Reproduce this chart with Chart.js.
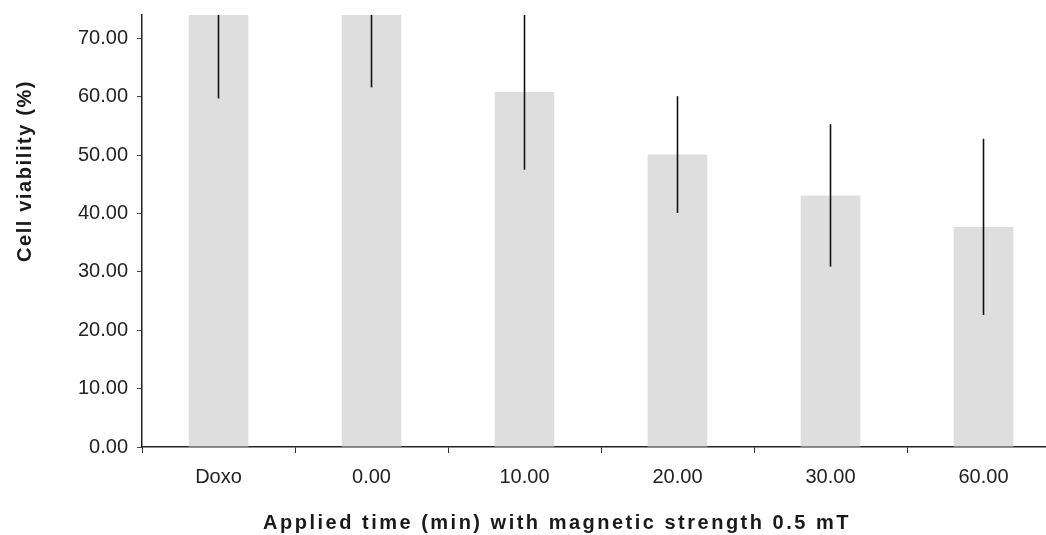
<!DOCTYPE html>
<html>
<head>
<meta charset="utf-8">
<script src="https://cdn.jsdelivr.net/npm/chart.js@4"></script>
<style>
	html, body { margin: 0; padding: 0; background: #fff; overflow: hidden; }
	#wrap { width: 1066px; height: 535px; }
</style>
</head>
<body>
<div id="wrap"><canvas id="chart"></canvas></div>
<script>
// values (the top of the first two bars is cut off)
const categories = ['Doxo', '0.00', '10.00', '20.00', '30.00', '60.00'];
const viability = [76.0, 76.0, 60.8, 50.1, 43.1, 37.7];
const sd = [16.3, 14.4, 13.3, 10.0, 12.2, 15.1];
const yTicks = [0, 10, 20, 30, 40, 50, 60, 70];
const xTitleText = 'Applied time (min) with magnetic strength 0.5 mT';
const yTitleText = 'Cell viability (%)';

const fontFamily = '"Liberation Sans", Arial, sans-serif';

// vertical error lines, no caps
const errorBars = {
	id: 'errorBars',
	afterDatasetsDraw(chart) {
		let ctx = chart.ctx;
		let y = chart.scales.y;
		let meta = chart.getDatasetMeta(0);
		let area = chart.chartArea;
		ctx.save();
		ctx.beginPath();
		ctx.rect(area.left, area.top, area.right - area.left, area.bottom - area.top);
		ctx.clip();
		ctx.strokeStyle = '#111';
		ctx.lineWidth = 1.6;
		meta.data.forEach((bar, i) => {
			ctx.beginPath();
			ctx.moveTo(bar.x, y.getPixelForValue(viability[i] - sd[i]));
			ctx.lineTo(bar.x, y.getPixelForValue(viability[i] + sd[i]));
			ctx.stroke();
		});
		ctx.restore();
	}
};

// axis titles are spaced out and sit off-centre in the original, so draw them by hand
const axisTitles = {
	id: 'axisTitles',
	afterDraw(chart) {
		let ctx = chart.ctx;
		let area = chart.chartArea;
		ctx.save();
		ctx.fillStyle = '#1a1a1a';
		ctx.textBaseline = 'middle';
		ctx.letterSpacing = '2.5px';
		ctx.font = 'bold 20px ' + fontFamily;
		ctx.textAlign = 'center';
		ctx.fillText(xTitleText, area.left + 415, 523);

		ctx.letterSpacing = '1.6px';
		ctx.font = 'bold 20px ' + fontFamily;
		ctx.translate(25, 171);
		ctx.rotate(-Math.PI / 2);
		ctx.fillText(yTitleText, 0, 0);
		ctx.restore();
	}
};

new Chart(document.getElementById('chart'), {
	type: 'bar',
	data: {
		labels: categories,
		datasets: [{
			data: viability,
			backgroundColor: '#dedede',
			borderWidth: 0,
			barPercentage: 0.39,
			categoryPercentage: 1.0
		}]
	},
	options: {
		responsive: true,
		maintainAspectRatio: false,
		animation: false,
		layout: { padding: { left: 0, top: 15, right: 6, bottom: 0 } },
		plugins: {
			legend: { display: false },
			tooltip: { enabled: false }
		},
		scales: {
			x: {
				grid: {
					offset: true,
					drawOnChartArea: false,
					drawTicks: true,
					tickLength: 6,
					color: '#333'
				},
				border: { color: '#222', width: 1.5 },
				ticks: {
					color: '#222',
					padding: 12,
					font: { family: fontFamily, size: 20 }
				},
				afterFit(scale) { scale.height = 88; }
			},
			y: {
				min: 0,
				max: 74,
				grid: {
					drawOnChartArea: false,
					drawTicks: true,
					tickLength: 5,
					color: '#444'
				},
				border: { color: '#222', width: 1.5 },
				afterBuildTicks(scale) {
					scale.ticks = yTicks.map(v => ({ value: v }));
				},
				ticks: {
					color: '#222',
					padding: 9,
					font: { family: fontFamily, size: 20 },
					callback: v => Number(v).toFixed(2)
				},
				afterFit(scale) {
					scale.width = 142;
					// the 70.00 label is well below the top, no extra room needed
					scale.paddingTop = 0;
				}
			}
		}
	},
	plugins: [errorBars, axisTitles]
});
</script>
</body>
</html>
